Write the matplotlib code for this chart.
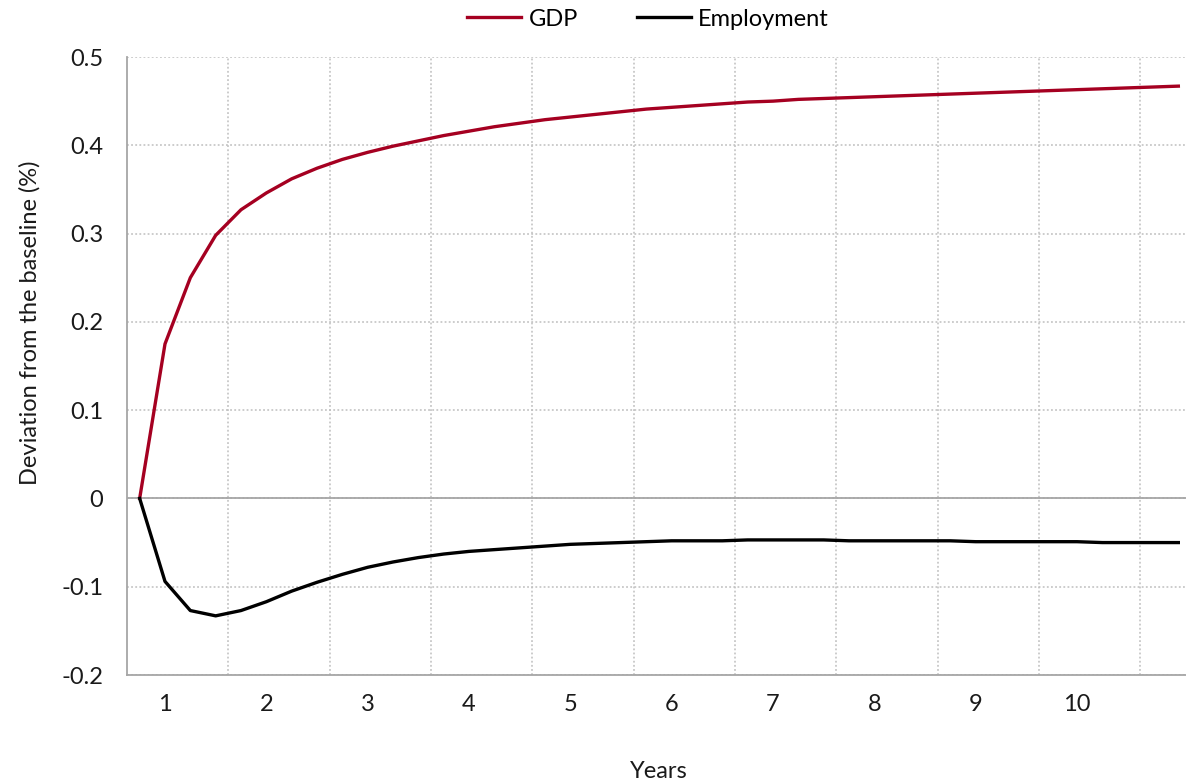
import numpy as np
import matplotlib.pyplot as plt

# quarterly responses, deviation from baseline (%)
quarters = np.arange(42)
gdp = [0.000, 0.175, 0.250, 0.298, 0.327, 0.346, 0.362, 0.374, 0.384, 0.392,
       0.399, 0.405, 0.411, 0.416, 0.421, 0.425, 0.429, 0.432, 0.435, 0.438,
       0.441, 0.443, 0.445, 0.447, 0.449, 0.450, 0.452, 0.453, 0.454, 0.455,
       0.456, 0.457, 0.458, 0.459, 0.460, 0.461, 0.462, 0.463, 0.464, 0.465,
       0.466, 0.467]
employment = [0.000, -0.094, -0.127, -0.133, -0.127, -0.117, -0.105, -0.095, -0.086, -0.078,
              -0.072, -0.067, -0.063, -0.060, -0.058, -0.056, -0.054, -0.052, -0.051, -0.050,
              -0.049, -0.048, -0.048, -0.048, -0.047, -0.047, -0.047, -0.047, -0.048, -0.048,
              -0.048, -0.048, -0.048, -0.049, -0.049, -0.049, -0.049, -0.049, -0.050, -0.050,
              -0.050, -0.050]
year_labels = ['1', '2', '3', '4', '5', '6', '7', '8', '9', '10']

plt.rcParams['font.family'] = ['Lato', 'DejaVu Sans']
grid_col = '#BFBFBF'
txt_col = '#1A1A1A'
fs = 17

fig = plt.figure(figsize=(11.86, 7.8), dpi=100)
ax = fig.add_axes([127/1186, 105/780, 1064/1186, 618/780])

ax.plot(quarters, gdp, color='#A50021', lw=2.4, label='GDP', zorder=3)
ax.plot(quarters, employment, color='black', lw=2.4, label='Employment', zorder=3)

ax.set_xlim(-0.5, 41.5)
ax.set_ylim(-0.2, 0.5)

# year labels under the 2nd quarter of each year, grid between years
ax.set_xticks([1 + 4 * k for k in range(len(year_labels))])
ax.set_xticklabels(year_labels)
ax.set_xticks([3.5 + 4 * k for k in range(10)], minor=True)
ax.tick_params(axis='x', which='both', length=0, pad=14, labelsize=fs, labelcolor=txt_col)

yt = np.round(np.arange(-0.2, 0.51, 0.1), 1)
ax.set_yticks(yt)
ax.set_yticklabels(['0' if v == 0 else f'{v:g}' for v in yt])
ax.tick_params(axis='y', length=0, pad=17, labelsize=fs, labelcolor=txt_col)

ax.grid(which='minor', axis='x', color=grid_col, ls=(0, (1.2, 1.5)), lw=1.1)
ax.grid(which='major', axis='y', color=grid_col, ls=(0, (1.2, 1.5)), lw=1.1)
ax.axhline(0, color='#A6A6A6', lw=1.3, zorder=2)

for side in ['top', 'right']:
    ax.spines[side].set_visible(False)
for side in ['left', 'bottom']:
    ax.spines[side].set_color('#A6A6A6')
    ax.spines[side].set_linewidth(1.3)

ax.set_ylabel('Deviation from the baseline (%)', fontsize=fs, color=txt_col)
ax.yaxis.set_label_coords(-0.081, 0.57)
ax.set_xlabel('Years', fontsize=fs, color=txt_col, labelpad=33)

fig.legend(loc='center', bbox_to_anchor=(648/1186, 1 - 19/780), ncol=2, frameon=False,
           fontsize=fs, handlelength=2.3, columnspacing=2.5, handletextpad=0.3)

plt.savefig('out.png', dpi=100)
